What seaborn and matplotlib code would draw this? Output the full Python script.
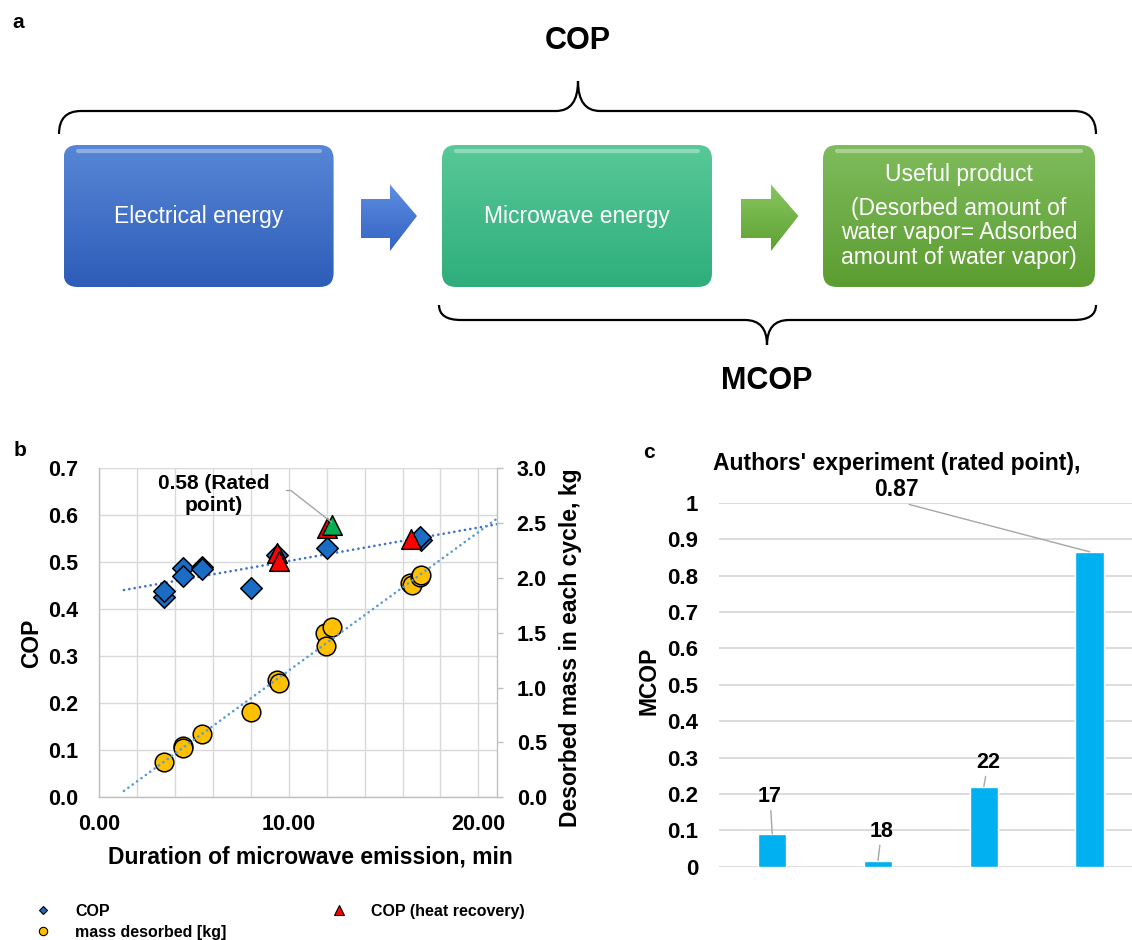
import numpy as np
import pandas as pd
import matplotlib
matplotlib.use("Agg")
import matplotlib.pyplot as plt
import seaborn as sns
from matplotlib.patches import FancyBboxPatch, Polygon, PathPatch
from matplotlib.path import Path
from matplotlib.lines import Line2D
from matplotlib.ticker import FixedLocator, MultipleLocator, FuncFormatter, FormatStrFormatter
from matplotlib.colors import to_rgb

# ---------------- data ----------------
# panel b : COP (left axis) vs duration of microwave emission [min]
cop_duration = [3.4, 3.4, 4.4, 4.4, 5.4, 5.4, 8.0, 9.4, 12.0, 17.0, 16.9]
cop_value = [0.427, 0.438, 0.487, 0.471, 0.491, 0.485, 0.446, 0.516, 0.531, 0.547, 0.553]

# COP with heat recovery (red) and the rated point (green)
hr_duration = [9.4, 9.5, 12.0, 16.45]
hr_value = [0.519, 0.503, 0.573, 0.549]
rated_duration = [12.3]
rated_value = [0.579]

# desorbed mass per cycle [kg] (right axis)
mass_duration = [3.4, 4.4, 4.4, 5.4, 8.0, 9.4, 9.5, 11.9, 11.95, 12.3, 16.4, 16.5, 16.9, 17.0]
mass_value = [0.325, 0.468, 0.447, 0.574, 0.775, 1.07, 1.046, 1.496, 1.38, 1.55, 1.958, 1.94, 2.01, 2.03]

# linear trend lines (end points)
trend_duration = [1.3, 21.0]
cop_trend = [0.441, 0.581]
mass_trend = [0.058, 2.544]

# panel c : MCOP
mcop_refs = ["17", "18", "22", "Authors"]
mcop_values = [0.09, 0.017, 0.22, 0.865]
mcop_labels = ["17", "18", "22", "Authors' experiment (rated point),\n0.87"]

# panel a : diagram texts
box_texts = ["Electrical energy", "Microwave energy"]
useful_title = "Useful product"
useful_text = "(Desorbed amount of\nwater vapor= Adsorbed\namount of water vapor)"

# ---------------- style ----------------
sns.set_theme(style="white")
plt.rcParams["font.family"] = ["Liberation Sans", "DejaVu Sans"]
plt.rcParams["font.weight"] = "bold"
plt.rcParams["axes.unicode_minus"] = False
for k in ("text.color", "axes.labelcolor", "xtick.color", "ytick.color",
          "xtick.labelcolor", "ytick.labelcolor"):
    plt.rcParams[k] = "black"

W, H = 1132, 940
fig = plt.figure(figsize=(W / 100, H / 100), dpi=100)
fig.patch.set_facecolor("white")


def fax(left, top, right, bottom):
    return [left / W, 1 - bottom / H, (right - left) / W, (bottom - top) / H]


# ---------------- panel a : diagram ----------------
axa = fig.add_axes([0, 0, 1, 1])
axa.set_xlim(0, W)
axa.set_ylim(H, 0)
axa.axis("off")


def vgrad(ax, x0, y0, x1, y1, ctop, cbot, clip):
    t = np.linspace(0, 1, 128)[:, None, None]
    img = (1 - t) * np.array(to_rgb(ctop)) + t * np.array(to_rgb(cbot))
    img = np.repeat(img, 2, axis=1)
    im = ax.imshow(img, extent=(x0, x1, y1, y0), aspect="auto",
                   interpolation="bilinear", zorder=2)
    im.set_clip_path(clip)


BY0, BY1, R = 145, 287, 14
boxes = [
    (63.5, 333.6, "#5886d6", "#2d5db8"),
    (442, 712, "#58c898", "#2eae7b"),
    (823, 1095, "#7fbb5c", "#5c9d31"),
]
for x0, x1, ct, cb in boxes:
    p = FancyBboxPatch((x0 + R, BY0 + R), x1 - x0 - 2 * R, BY1 - BY0 - 2 * R,
                       boxstyle=f"round,pad={R}", facecolor="none",
                       edgecolor="none", transform=axa.transData)
    axa.add_patch(p)
    vgrad(axa, x0, BY0, x1, BY1, ct, cb, p)
    axa.plot([x0 + 14, x1 - 14], [BY0 + 6, BY0 + 6], color="white", alpha=0.35,
             lw=3, solid_capstyle="round", zorder=3)

arrows = [
    ([(361, 199), (390, 199), (390, 184.5), (417, 216), (390, 251), (390, 238), (361, 238)],
     "#5e8ee0", "#3462c4"),
    ([(741, 199), (771, 199), (771, 184.5), (798.5, 216), (771, 251), (771, 238), (741, 238)],
     "#88c660", "#5ea232"),
]
for pts, ct, cb in arrows:
    poly = Polygon(pts, closed=True, facecolor="none", edgecolor="none",
                   transform=axa.transData)
    axa.add_patch(poly)
    xs = [q[0] for q in pts]
    ys = [q[1] for q in pts]
    vgrad(axa, min(xs), min(ys), max(xs), max(ys), ct, cb, poly)

# braces
C3, L, M = Path.CURVE3, Path.LINETO, Path.MOVETO
top_brace = Path(
    [(59, 134), (59, 111), (81, 111), (556, 111), (578, 111), (578, 81),
     (578, 111), (600, 111), (1074, 111), (1096, 111), (1096, 134)],
    [M, C3, C3, L, C3, C3, C3, C3, L, C3, C3])
bot_brace = Path(
    [(439, 305), (439, 320), (461, 320), (745, 320), (767, 320), (767, 345),
     (767, 320), (789, 320), (1074, 320), (1096, 320), (1096, 305)],
    [M, C3, C3, L, C3, C3, C3, C3, L, C3, C3])
for br in (top_brace, bot_brace):
    axa.add_patch(PathPatch(br, facecolor="none", edgecolor="black", lw=1.6,
                            transform=axa.transData, zorder=3))

axa.text(578, 41, "COP", ha="center", va="center", fontsize=22, fontweight="bold")
axa.text(767, 381, "MCOP", ha="center", va="center", fontsize=22, fontweight="bold")
axa.text(198.5, 216, box_texts[0], color="white", fontsize=16.5, fontweight="normal",
         ha="center", va="center", zorder=4)
axa.text(577, 216, box_texts[1], color="white", fontsize=16.5, fontweight="normal",
         ha="center", va="center", zorder=4)
axa.text(959, 175, useful_title, color="white", fontsize=16.5, fontweight="normal",
         ha="center", va="center", zorder=4)
axa.text(959, 233, useful_text, color="white", fontsize=16.5, fontweight="normal",
         ha="center", va="center", linespacing=1.08, zorder=4)

axa.text(18, 22, "a", fontsize=15, fontweight="bold", ha="center", va="center")
axa.text(19.7, 450, "b", fontsize=15, fontweight="bold", ha="center", va="center")
axa.text(649, 453, "c", fontsize=15, fontweight="bold", ha="center", va="center")

# ---------------- panel b ----------------
axb = fig.add_axes(fax(99.3, 468.3, 497.3, 797.3))
ax2 = axb.twinx()

COL_COP = "#1a6dc2"
COL_MASS = "#ffc000"
COL_HR = "#ff0000"
COL_RATED = "#00b050"
DOTS = (0, (0.05, 2.0))

sns.lineplot(x=trend_duration, y=cop_trend, ax=axb, color="#3f72c8", lw=1.9,
             linestyle=DOTS, dash_capstyle="round", zorder=2)
sns.scatterplot(x=cop_duration, y=cop_value, ax=axb, marker="D", s=120,
                color=COL_COP, edgecolor="black", linewidth=1.1, zorder=3, legend=False)
sns.scatterplot(x=hr_duration, y=hr_value, ax=axb, marker="^", s=200,
                color=COL_HR, edgecolor="black", linewidth=1.1, zorder=4, legend=False)
sns.scatterplot(x=rated_duration, y=rated_value, ax=axb, marker="^", s=200,
                color=COL_RATED, edgecolor="black", linewidth=1.1, zorder=5, legend=False)

sns.scatterplot(x=mass_duration, y=mass_value, ax=ax2, marker="o", s=180,
                color=COL_MASS, edgecolor="black", linewidth=1.1, zorder=3, legend=False)
sns.lineplot(x=trend_duration, y=mass_trend, ax=ax2, color="#5b9bd5", lw=1.9,
             linestyle=DOTS, dash_capstyle="round", zorder=4)

axb.set_xlim(0, 21)
axb.set_ylim(0, 0.7)
ax2.set_ylim(0, 3.0)
axb.xaxis.set_major_locator(FixedLocator([0, 10, 20]))
axb.xaxis.set_minor_locator(MultipleLocator(2))
axb.yaxis.set_major_locator(MultipleLocator(0.1))
ax2.yaxis.set_major_locator(MultipleLocator(0.5))
axb.xaxis.set_major_formatter(FormatStrFormatter("%.2f"))
axb.yaxis.set_major_formatter(FormatStrFormatter("%.1f"))
ax2.yaxis.set_major_formatter(FormatStrFormatter("%.1f"))
axb.grid(True, which="major", axis="y", color="#d9d9d9", lw=1)
axb.grid(True, which="both", axis="x", color="#d9d9d9", lw=1)
axb.set_axisbelow(True)
axb.tick_params(axis="both", which="both", length=0, labelsize=15.5, labelcolor="black")
axb.tick_params(axis="x", pad=12)
axb.tick_params(axis="y", pad=15)
ax2.tick_params(axis="y", length=4.5, width=1, color="#bfbfbf", direction="out",
                labelsize=15.5, pad=9.5, labelcolor="black")
for s in ("top", "right"):
    axb.spines[s].set_visible(False)
for s in ("left", "bottom"):
    axb.spines[s].set_color("#bfbfbf")
    axb.spines[s].set_linewidth(1)
for s in ("top", "left", "bottom"):
    ax2.spines[s].set_visible(False)
ax2.spines["right"].set_color("#bfbfbf")
ax2.spines["right"].set_linewidth(1)

axb.set_xlabel("Duration of microwave emission, min", fontsize=16.5, fontweight="bold",
               color="black")
axb.xaxis.set_label_coords(0.531, -0.180)
axb.xaxis.label.set_va("center")
axb.set_ylabel("COP", fontsize=16.5, fontweight="bold", color="black")
axb.yaxis.set_label_coords(-0.170, 0.468)
axb.yaxis.label.set_va("center")
ax2.set_ylabel("Desorbed mass in each cycle, kg", fontsize=16.5, fontweight="bold",
               rotation=90, color="black")
ax2.yaxis.set_label_coords(1.1827, 0.454)
ax2.yaxis.label.set_va("center")

axb.annotate("0.58 (Rated\npoint)", xy=(12.26, 0.585), xytext=(6.03, 0.644),
             ha="center", va="center", fontsize=15, fontweight="bold", color="black",
             arrowprops=dict(arrowstyle="-", color="#a6a6a6", lw=1, relpos=(1, 0.6),
                             shrinkA=10, shrinkB=0,
                             connectionstyle="angle,angleA=0,angleB=-38,rad=0"),
             zorder=6)

# legend
handles = [
    Line2D([], [], ls="none", marker="D", markersize=4.5, markerfacecolor=COL_COP,
           markeredgecolor="black", markeredgewidth=0.8),
    Line2D([], [], ls="none", marker="o", markersize=6, markerfacecolor=COL_MASS,
           markeredgecolor="black", markeredgewidth=0.8),
    Line2D([], [], ls="none", marker="^", markersize=7, markerfacecolor=COL_HR,
           markeredgecolor="black", markeredgewidth=0.8),
]
leg = fig.legend(handles, ["COP", "mass desorbed [kg]", "COP (heat recovery)"], ncol=2,
                 loc="upper left", bbox_to_anchor=(27.3 / W, 1 - 904 / H), frameon=False,
                 prop={"size": 11.5, "weight": "bold"}, handlelength=2, handletextpad=1.0,
                 columnspacing=6.05, labelspacing=0.35, borderpad=0, borderaxespad=0)
for t in leg.get_texts():
    t.set_color("black")

# ---------------- panel c ----------------
axc = fig.add_axes(fax(719.3, 502.7, 1132, 866.7))
sns.barplot(x=mcop_refs, y=mcop_values, color="#00b0f0", saturation=1, width=0.27,
            ax=axc, zorder=3)
axc.set_xlim(-0.5, 3.40)
axc.set_ylim(0, 1)
axc.set_xticks([])
axc.set_xlabel("")
axc.yaxis.set_major_locator(MultipleLocator(0.1))
axc.yaxis.set_major_formatter(FuncFormatter(lambda v, p: f"{round(v, 1):g}"))
axc.grid(True, axis="y", color="#d9d9d9", lw=1.3)
axc.set_axisbelow(True)
for s in axc.spines.values():
    s.set_visible(False)
axc.tick_params(axis="y", length=0, labelsize=16, pad=15, labelcolor="black")
axc.set_ylabel("MCOP", fontsize=16.5, fontweight="bold", color="black")
axc.yaxis.set_label_coords(-0.1703, 0.512)
axc.yaxis.label.set_va("center")

# label offsets (pixels) relative to the top of each bar
label_offsets = [(-2.2, 37.3), (3.4, 29.0), (4.2, 24.0), (-193.0, 75.0)]
for i, (lab, val, off) in enumerate(zip(mcop_labels, mcop_values, label_offsets)):
    big = i == 3
    axc.annotate(lab, xy=(i, val), xytext=off, textcoords="offset pixels",
                 ha="center", va="center", fontsize=16.5 if big else 15.5,
                 fontweight="bold", linespacing=1.15, color="black",
                 arrowprops=dict(arrowstyle="-", color="#a6a6a6", lw=1,
                                 relpos=(0.5, 0.0) if big else (0.5, 0.5),
                                 shrinkA=0, shrinkB=0), zorder=6)

fig.savefig("out.png", dpi=100, facecolor="white")
